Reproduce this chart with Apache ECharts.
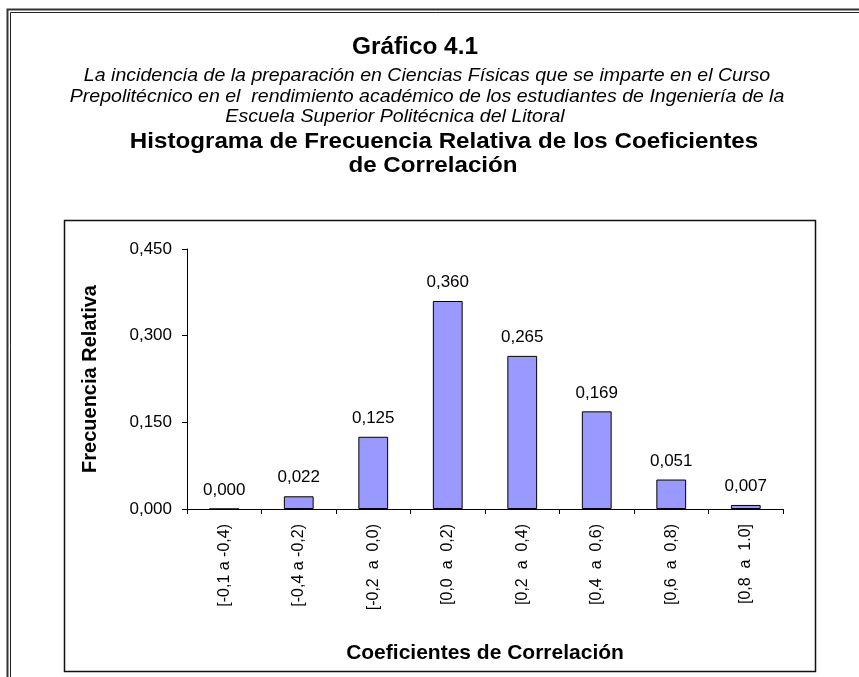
<!DOCTYPE html>
<html>
<head>
<meta charset="utf-8">
<script src="https://cdn.jsdelivr.net/npm/echarts@6/dist/echarts.min.js"></script>
<style>
  html, body { margin: 0; padding: 0; background: #fff; }
  #chart { width: 859px; height: 677px; }
</style>
</head>
<body>
<div id="chart"></div>
<script>
// Class intervals of the correlation coefficients
const categories = [
  '[-0,1 a -0,4)',
  '[-0,4 a -0,2)',
  '[-0,2  a  0,0)',
  '[0,0  a  0,2)',
  '[0,2  a  0,4)',
  '[0,4  a  0,6)',
  '[0,6  a  0,8)',
  '[0,8  a  1.0]'
];
// Relative frequency of each interval
const relFreq = [0.000, 0.022, 0.125, 0.360, 0.265, 0.169, 0.051, 0.007];
// Value-axis ticks
const yTicks = [0, 0.15, 0.30, 0.45];

const FONT = '"Liberation Sans", Arial, sans-serif';
const fmt = v => v.toFixed(3).replace('.', ',');

// centred heading line, slightly widened
function heading(text, x, y, font, sx) {
  return {
    type: 'text', silent: true, x: x, y: y, scaleX: sx, scaleY: 1,
    style: { x: 0, y: 0, text: text, font: font, fill: '#000',
             textAlign: 'center', textVerticalAlign: 'middle' }
  };
}

const chart = echarts.init(document.getElementById('chart'), null, { renderer: 'canvas' });

chart.setOption({
  animation: false,
  backgroundColor: '#fff',
  graphic: [
    // outer double frame
    { type: 'rect', silent: true, shape: { x: 7.5, y: 9.5, width: 880, height: 700 },
      style: { fill: null, stroke: '#333', lineWidth: 2 } },
    { type: 'rect', silent: true, shape: { x: 10.5, y: 12.5, width: 880, height: 700 },
      style: { fill: null, stroke: '#222', lineWidth: 1 } },
    // chart box
    { type: 'rect', silent: true, shape: { x: 64.5, y: 220.5, width: 751, height: 451 },
      style: { fill: null, stroke: '#111', lineWidth: 1.5 } },
    // headings
    heading('Gráfico 4.1', 415, 48, 'bold 23px ' + FONT, 1.06),
    heading('La incidencia de la preparación en Ciencias Físicas que se imparte en el Curso',
            427, 76, 'italic 18px ' + FONT, 1.087),
    heading('Prepolitécnico en el  rendimiento académico de los estudiantes de Ingeniería de la',
            427, 97, 'italic 18px ' + FONT, 1.087),
    heading('Escuela Superior Politécnica del Litoral',
            395, 117, 'italic 18px ' + FONT, 1.087),
    heading('Histograma de Frecuencia Relativa de los Coeficientes',
            444, 142, 'bold 22px ' + FONT, 1.098),
    heading('de Correlación', 433, 166, 'bold 22px ' + FONT, 1.098)
  ],
  grid: { left: 187, right: 76, top: 249, bottom: 168, containLabel: false },
  xAxis: {
    type: 'category',
    data: categories,
    name: 'Coeficientes de Correlación',
    nameLocation: 'middle',
    nameGap: 134,
    nameTextStyle: { fontFamily: FONT, fontWeight: 'bold', fontSize: 21, color: '#000' },
    axisLine: { lineStyle: { color: '#000', width: 1 } },
    axisTick: { show: true, length: 5, lineStyle: { color: '#000' } },
    axisLabel: { rotate: 90, margin: 15, fontFamily: FONT, fontSize: 16, color: '#000', interval: 0 }
  },
  yAxis: {
    type: 'value',
    min: yTicks[0],
    max: yTicks[yTicks.length - 1],
    interval: yTicks[1] - yTicks[0],
    name: 'Frecuencia Relativa',
    nameLocation: 'middle',
    nameGap: 87,
    nameRotate: 90,
    nameTextStyle: { fontFamily: FONT, fontWeight: 'bold', fontSize: 20, color: '#000' },
    axisLine: { show: true, lineStyle: { color: '#000', width: 1 } },
    axisTick: { show: true, length: 5, lineStyle: { color: '#000' } },
    splitLine: { show: false },
    axisLabel: { margin: 15, fontFamily: FONT, fontSize: 17, color: '#000', formatter: fmt }
  },
  series: [{
    type: 'bar',
    data: relFreq,
    barWidth: '40%',
    itemStyle: { color: '#9999ff', borderColor: '#000', borderWidth: 1 },
    label: {
      show: true, position: 'top', distance: 10,
      fontFamily: FONT, fontSize: 17, color: '#000',
      formatter: p => fmt(p.value)
    }
  }]
});
</script>
</body>
</html>
